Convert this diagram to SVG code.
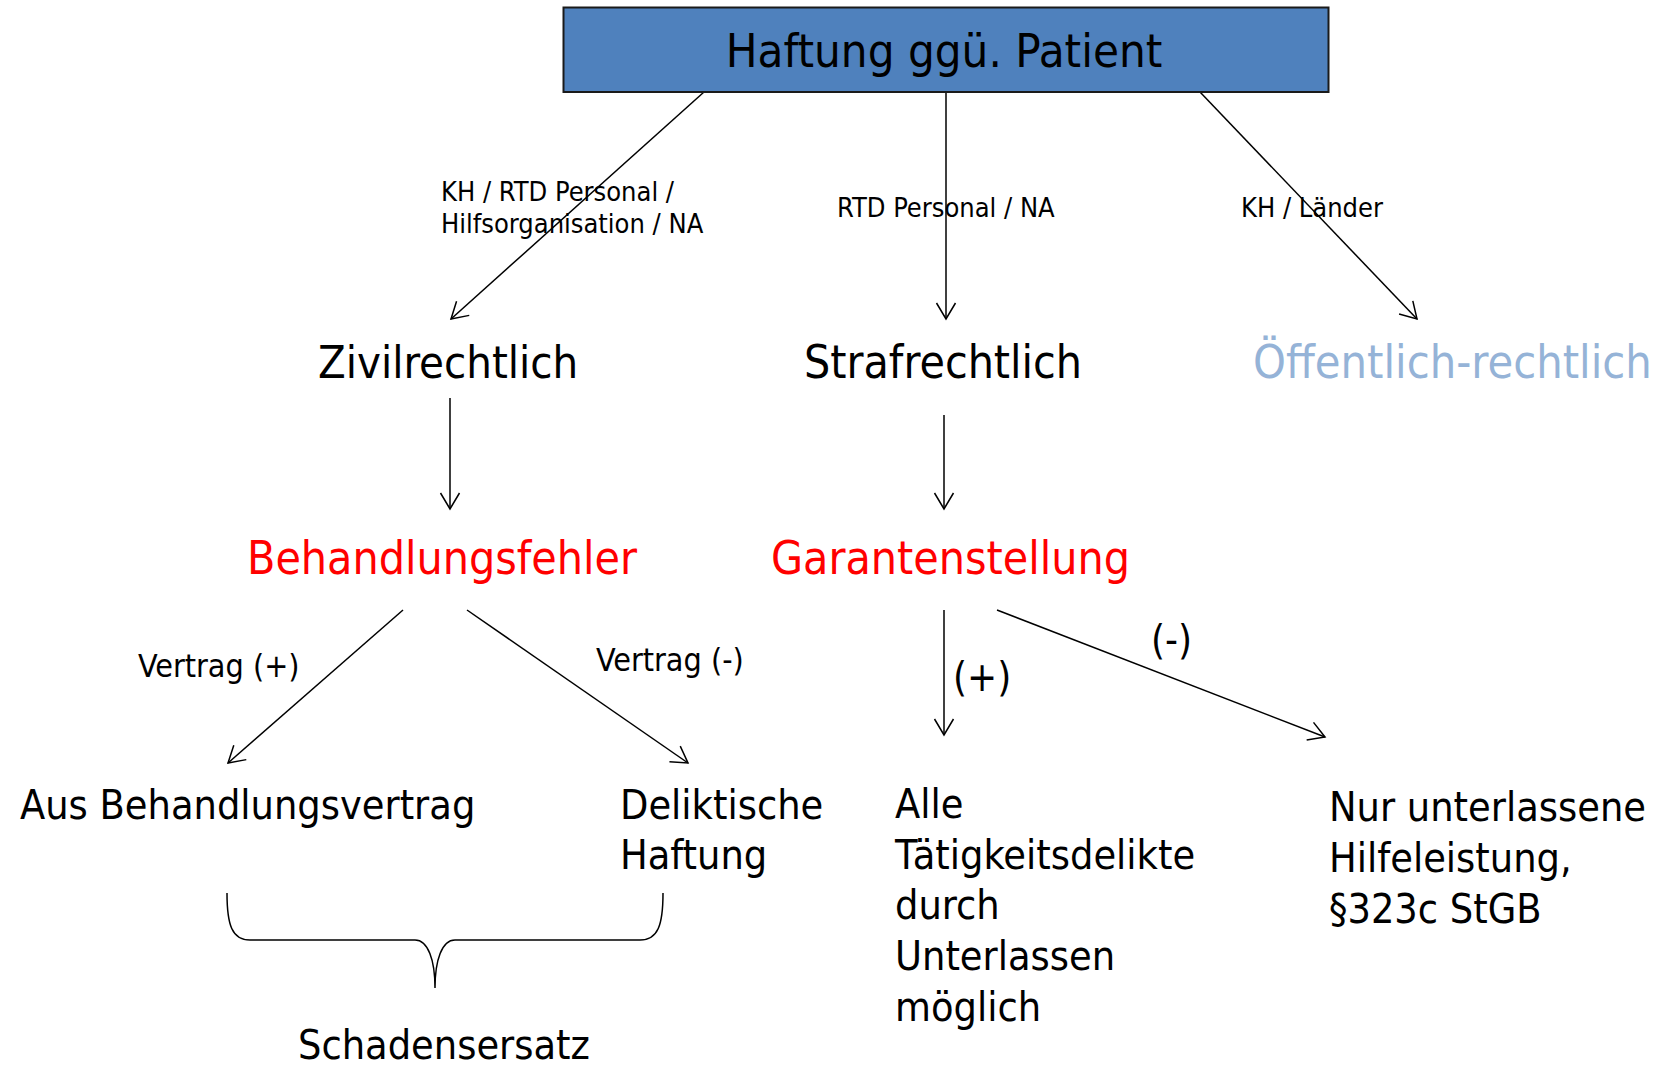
<svg xmlns="http://www.w3.org/2000/svg" width="1657" height="1066" viewBox="0 0 1657 1066">
<style>
text{font-family:"DejaVu Sans Condensed","DejaVu Sans",sans-serif;fill:#000}
.t1{font-size:47px}
.t2{font-size:45px}
.t2b{font-size:46px}
.red{font-size:46px;fill:#FF0000}
.blue{font-size:46.5px;fill:#95B3D7}
.t3{font-size:41px}
.lbl{font-size:27px}
.vl{font-size:32px}
.pm{font-size:40px}
.ln{stroke:#000;stroke-width:1.5;fill:none}
</style>
<defs>
<marker id="ah" markerUnits="userSpaceOnUse" markerWidth="22" markerHeight="22" refX="16" refY="10" orient="auto" overflow="visible">
<path d="M0,0.5 L16,10 L0,19.5" fill="none" stroke="#000" stroke-width="1.5"/>
</marker>
</defs>
<rect width="1657" height="1066" fill="#fff"/>
<g id="connectors">
<line class="ln" x1="704" y1="92" x2="451" y2="319" marker-end="url(#ah)"/>
<line class="ln" x1="946" y1="92" x2="946" y2="319" marker-end="url(#ah)"/>
<line class="ln" x1="1200" y1="92" x2="1417" y2="319" marker-end="url(#ah)"/>
<line class="ln" x1="450" y1="398" x2="450" y2="509" marker-end="url(#ah)"/>
<line class="ln" x1="944" y1="415" x2="944" y2="509" marker-end="url(#ah)"/>
<line class="ln" x1="403" y1="610" x2="228" y2="763" marker-end="url(#ah)"/>
<line class="ln" x1="467" y1="610" x2="688" y2="763" marker-end="url(#ah)"/>
<line class="ln" x1="944" y1="610" x2="944" y2="735" marker-end="url(#ah)"/>
<line class="ln" x1="997" y1="610" x2="1325" y2="737" marker-end="url(#ah)"/>
<path class="ln" d="M227,893 C227,925 232,940 250,940 L415,940 C428,940 435,960 435,988 C435,960 442,940 455,940 L640,940 C658,940 663,925 663,893"/>
<text class="lbl" x="441" y="201">KH / RTD Personal /</text>
<text class="lbl" x="441" y="233">Hilfsorganisation / NA</text>
<text class="lbl" x="837" y="217">RTD Personal / NA</text>
<text class="lbl" x="1241" y="217">KH / Länder</text>
<text class="vl" x="138" y="677">Vertrag (+)</text>
<text class="vl" x="596" y="671">Vertrag (-)</text>
<text class="pm" x="953" y="691">(+)</text>
<text class="pm" x="1151" y="654">(-)</text>
</g>
<g id="root">
<rect x="563.5" y="7.5" width="765" height="84.5" fill="#4F81BD" stroke="#1a1a1a" stroke-width="2"/>
<text class="t1" x="944" y="67" text-anchor="middle">Haftung ggü. Patient</text>
</g>
<g id="zivil"><text class="t2" x="318" y="378">Zivilrechtlich</text></g>
<g id="straf"><text class="t2b" x="804" y="378">Strafrechtlich</text></g>
<g id="oeff"><text class="blue" x="1253" y="378">Öffentlich-rechtlich</text></g>
<g id="behandlungsfehler"><text class="red" x="247" y="574">Behandlungsfehler</text></g>
<g id="garantenstellung"><text class="red" x="771" y="574">Garantenstellung</text></g>
<g id="behandlungsvertrag"><text class="t3" x="20" y="819">Aus Behandlungsvertrag</text></g>
<g id="deliktisch"><text class="t3" x="620" y="819">Deliktische</text><text class="t3" x="620" y="869">Haftung</text></g>
<g id="alle"><text class="t3" x="895" y="818">Alle</text><text class="t3" x="895" y="869">Tätigkeitsdelikte</text><text class="t3" x="895" y="919">durch</text><text class="t3" x="895" y="970">Unterlassen</text><text class="t3" x="895" y="1021">möglich</text></g>
<g id="unterlassene"><text class="t3" x="1329" y="821">Nur unterlassene</text><text class="t3" x="1329" y="872">Hilfeleistung,</text><text class="t3" x="1329" y="923">§323c StGB</text></g>
<g id="schadensersatz"><text class="t3" x="298" y="1059">Schadensersatz</text></g>
</svg>
